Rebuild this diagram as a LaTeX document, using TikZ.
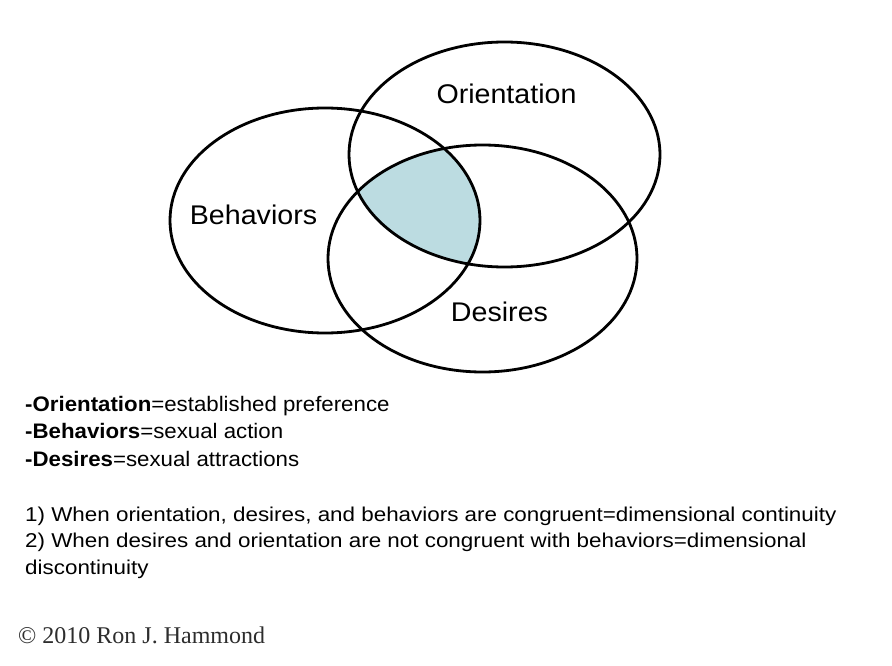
\documentclass[tikz,border=0pt]{standalone}
\usepackage{fontspec}
\setmainfont{Liberation Sans}
\newfontfamily\copyfont{Liberation Serif}
\definecolor{venncol}{RGB}{188,220,225}
\definecolor{copygrey}{RGB}{45,45,45}
\begin{document}
\begin{tikzpicture}[x=1pt,y=-1pt,
  ring/.style={draw=black,line width=2.8pt},
  vlabel/.style={font=\fontsize{27}{32}\selectfont,inner sep=0pt,anchor=base,xscale=1.06},
  legend/.style={font=\fontsize{21}{26}\selectfont,inner sep=0pt,anchor=base west,xscale=1.06},
  note/.style={font=\fontsize{20}{26}\selectfont,inner sep=0pt,anchor=base west,xscale=1.12}]
\useasboundingbox[fill=white] (0,0) rectangle (892,666);
% shaded triple intersection
\begin{scope}
  \clip (325,220.5) ellipse [x radius=155pt, y radius=112.5pt];
  \clip (504.5,154.5) ellipse [x radius=155.5pt, y radius=112.5pt];
  \fill[venncol] (482.5,258.5) ellipse [x radius=154.5pt, y radius=113.5pt];
\end{scope}
% ellipses
\draw[ring] (325,220.5) ellipse [x radius=155pt, y radius=112.5pt];
\draw[ring] (504.5,154.5) ellipse [x radius=155.5pt, y radius=112.5pt];
\draw[ring] (482.5,258.5) ellipse [x radius=154.5pt, y radius=113.5pt];
% labels
\node[vlabel] (lo) at (506.5,104) {Orientation};
\node[vlabel] (lb) at (253.5,224) {Behaviors};
\node[vlabel] (ld) at (499.5,321.5) {Desires};
% legend
\node[legend] (l1) at (25,411.7) {\textbf{-Orientation}=established preference};
\node[legend] (l2) at (25,438.5) {\textbf{-Behaviors}=sexual action};
\node[legend] (l3) at (25,466) {\textbf{-Desires}=sexual attractions};
\node[note] (n1) at (25,521) {1) When orientation, desires, and behaviors are congruent=dimensional continuity};
\node[note] (n2) at (25,547.5) {2) When desires and orientation are not congruent with behaviors=dimensional};
\node[note] (n3) at (25,574) {discontinuity};
% copyright
\node[font=\copyfont\fontsize{24}{28}\selectfont,text=copygrey,inner sep=0pt,anchor=base west] (cp) at (18,643) {\textcopyright{} 2010 Ron J. Hammond};
\end{tikzpicture}
\end{document}
